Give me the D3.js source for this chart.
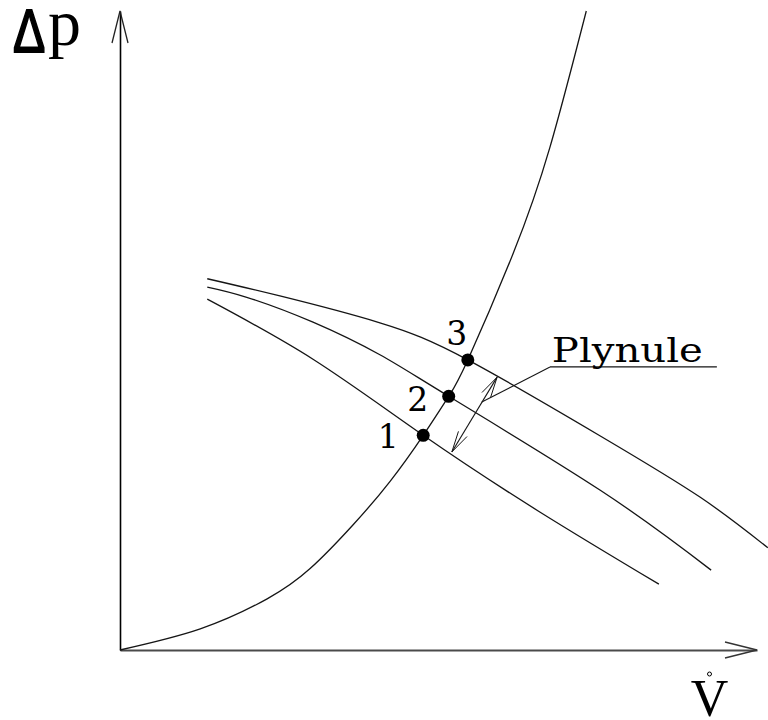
<!DOCTYPE html>
<html>
<head>
<meta charset="utf-8">
<script src="https://cdn.jsdelivr.net/npm/d3@7/dist/d3.min.js"></script>
<style>
  html, body { margin: 0; padding: 0; background: #fff; }
  svg { display: block; }
</style>
</head>
<body>
<svg id="chart" width="768" height="720"></svg>
<script>
// System characteristic (pressure loss vs. flow), [flow, pressure]
const systemCurve = [
  [0, 0], [1.26, 0.33], [2.31, 0.80], [2.98, 1.27], [3.66, 1.96],
  [4.24, 2.64], [4.76, 3.36], [5.16, 3.97], [5.46, 4.54], [6.17, 6.20],
  [6.75, 7.87], [7.32, 10.0]
];

// Fan characteristics at three speeds
const fanCurve1 = [
  [1.37, 5.49], [3.03, 4.55], [4.76, 3.36], [6.59, 2.16], [8.46, 1.03]
];
const fanCurve2 = [
  [1.37, 5.68], [1.99, 5.52], [3.03, 5.13], [4.08, 4.62], [5.16, 3.97],
  [7.54, 2.50], [9.28, 1.25]
];
const fanCurve3 = [
  [1.37, 5.81], [2.51, 5.54], [4.08, 5.12], [5.46, 4.54], [7.54, 3.35],
  [9.11, 2.39], [10.17, 1.60]
];

// Operating points (intersections of system and fan curves)
const pointLabels = ["1", "2", "3"];
const operatingPoints = [[4.76, 3.36], [5.16, 3.97], [5.46, 4.54]];

// Continuous speed change: double arrow between curve 3 and curve 1
const speedArrow = [[5.92, 4.27], [5.21, 3.10]];
const annotationText = "Plynule";
const annotationLeader = [[6.75, 4.43], [5.68, 3.88]];
const annotationUnderline = [[6.75, 4.43], [9.37, 4.43]];
const annotationAnchor = [6.78, 4.51];

const svg = d3.select("#chart");
const ink = "#151515";

const x = d3.scaleLinear().domain([0, 10]).range([120, 757]);
const y = d3.scaleLinear().domain([0, 10]).range([650, 11]);

// Axes without ticks, only the axis lines
svg.append("g")
  .attr("transform", `translate(0,${y(0)})`)
  .call(d3.axisBottom(x).ticks(0).tickSizeOuter(0))
  .call(g => g.select(".domain").attr("stroke", "#4a4a4a").attr("stroke-width", 2));
svg.append("g")
  .attr("transform", `translate(${x(0)},0)`)
  .call(d3.axisLeft(y).ticks(0).tickSizeOuter(0))
  .call(g => g.select(".domain").attr("stroke", "#000").attr("stroke-width", 1.6));

// Open arrowheads
function openHead(tipX, tipY, dx, dy, len, half, color, width) {
  const n = Math.hypot(dx, dy), ux = dx / n, uy = dy / n;
  const bx = tipX - ux * len, by = tipY - uy * len;
  const px = -uy * half, py = ux * half;
  svg.append("path")
    .attr("d", `M${bx + px},${by + py}L${tipX},${tipY}L${bx - px},${by - py}`)
    .attr("fill", "none").attr("stroke", color).attr("stroke-width", width);
}
openHead(x(10), y(0), 1, 0, 32, 8, "#333", 1.3);
openHead(x(0), y(10), 0, -1, 32, 8, "#222", 1.3);

// Curves
const line = d3.line()
  .x(d => x(d[0])).y(d => y(d[1]))
  .curve(d3.curveNatural);

[systemCurve, fanCurve1, fanCurve2, fanCurve3].forEach(c => {
  svg.append("path")
    .attr("d", line(c))
    .attr("fill", "none")
    .attr("stroke", ink)
    .attr("stroke-width", 1.3);
});

// Double arrow for the continuous speed change
const straight = d3.line().x(d => x(d[0])).y(d => y(d[1]));
svg.append("path").attr("d", straight(speedArrow))
  .attr("fill", "none").attr("stroke", ink).attr("stroke-width", 1.1);
{
  const a = [x(speedArrow[0][0]), y(speedArrow[0][1])];
  const b = [x(speedArrow[1][0]), y(speedArrow[1][1])];
  openHead(a[0], a[1], a[0] - b[0], a[1] - b[1], 21, 5, ink, 1);
  openHead(b[0], b[1], b[0] - a[0], b[1] - a[1], 21, 5, ink, 1);
}

// Leader and underline of the annotation
svg.append("path").attr("d", straight(annotationLeader))
  .attr("fill", "none").attr("stroke", ink).attr("stroke-width", 1.1);
svg.append("path").attr("d", straight(annotationUnderline))
  .attr("fill", "none").attr("stroke", ink).attr("stroke-width", 1.3);
svg.append("text")
  .attr("x", x(annotationAnchor[0])).attr("y", y(annotationAnchor[1]))
  .attr("font-family", "DejaVu Serif").attr("font-size", 34)
  .attr("textLength", 151).attr("lengthAdjust", "spacingAndGlyphs")
  .attr("fill", "#000")
  .text(annotationText);

// Operating points and their numbers
const labelOffsets = [[-35, 13], [-31, 15], [-11, -15]];
svg.selectAll("circle.op").data(operatingPoints).join("circle")
  .attr("class", "op")
  .attr("cx", d => x(d[0])).attr("cy", d => y(d[1]))
  .attr("r", 6.5).attr("fill", "#000");
svg.selectAll("text.op").data(operatingPoints).join("text")
  .attr("class", "op")
  .attr("x", (d, i) => x(d[0]) + labelOffsets[i][0])
  .attr("y", (d, i) => y(d[1]) + labelOffsets[i][1])
  .attr("text-anchor", "middle")
  .attr("font-family", "DejaVu Serif").attr("font-size", 33)
  .attr("fill", "#000")
  .text((d, i) => pointLabels[i]);

// Axis titles
svg.append("text")
  .attr("transform", "translate(13,52) scale(0.78,1)")
  .attr("font-family", "Liberation Sans").attr("font-size", 62)
  .attr("fill", "#000").attr("stroke", "#000").attr("stroke-width", 1.8)
  .text("Δ");
svg.append("text").attr("x", 48).attr("y", 45)
  .attr("font-family", "Liberation Serif").attr("font-size", 66)
  .attr("fill", "#000").text("p");
svg.append("text").attr("x", 709.5).attr("y", 716)
  .attr("text-anchor", "middle")
  .attr("font-family", "Liberation Serif").attr("font-size", 52)
  .attr("fill", "#000").text("V");
svg.append("circle").attr("cx", 709.5).attr("cy", 674).attr("r", 2)
  .attr("fill", "none").attr("stroke", "#000").attr("stroke-width", 1);
</script>
</body>
</html>
